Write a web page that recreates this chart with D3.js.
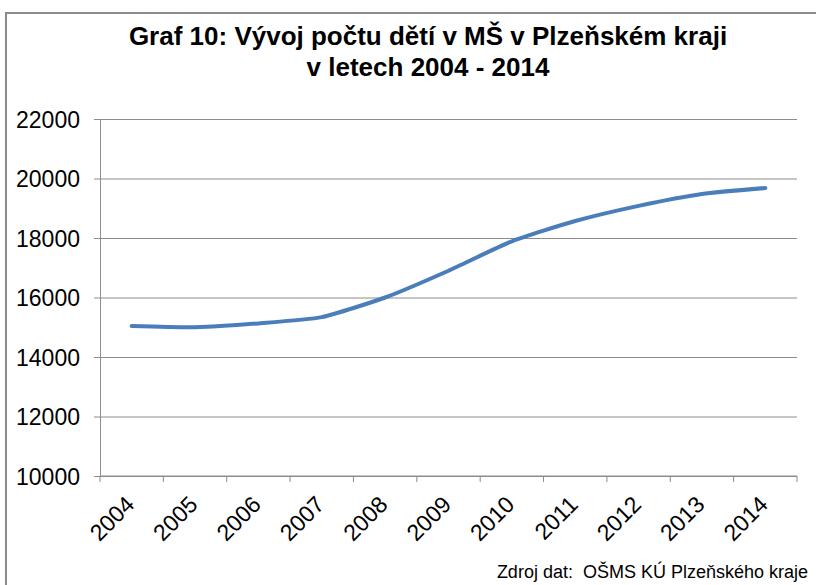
<!DOCTYPE html>
<html>
<head>
<meta charset="utf-8">
<script src="https://cdnjs.cloudflare.com/ajax/libs/d3/7.8.5/d3.min.js"></script>
<style>
  body { margin: 0; background: #fff; }
  svg { display: block; font-family: Arial, "Liberation Sans", sans-serif; }
</style>
</head>
<body>
<svg width="816" height="585"></svg>
<script>
var years = ["2004", "2005", "2006", "2007", "2008", "2009", "2010", "2011", "2012", "2013", "2014"];
var children = [15040, 15000, 15130, 15340, 16000, 16900, 17890, 18570, 19080, 19480, 19680];
var yTicks = [10000, 12000, 14000, 16000, 18000, 20000, 22000];
var titleLines = ["Graf 10: Vývoj počtu dětí v MŠ v Plzeňském kraji", "v letech 2004 - 2014"];
var source = "Zdroj dat:  OŠMS KÚ Plzeňského kraje";

var svg = d3.select("svg"),
    margin = {top: 119, right: 19, bottom: 109, left: 100},
    width = +svg.attr("width") - margin.left - margin.right,
    height = +svg.attr("height") - margin.top - margin.bottom;

// outer frame
svg.append("rect")
    .attr("x", 6)
    .attr("y", 13)
    .attr("width", 830)
    .attr("height", 600)
    .attr("fill", "#fff")
    .attr("stroke", "#8c8c8c")
    .attr("stroke-width", 2);

var x = d3.scaleBand().domain(years).range([0, width]),
    y = d3.scaleLinear().domain([10000, 22000]).range([height, 0]);

var g = svg.append("g")
    .attr("transform", "translate(" + margin.left + "," + margin.top + ")");

// grid
g.append("g")
    .attr("class", "grid")
    .call(d3.axisLeft(y).tickValues(yTicks).tickSize(-width).tickFormat(""))
    .call(function(s) {
        s.select(".domain").remove();
        s.selectAll("line").attr("stroke", "#8c8c8c").attr("stroke-width", 1);
    });

// y axis
g.append("g")
    .attr("class", "axis axis--y")
    .call(d3.axisLeft(y).tickValues(yTicks).tickSize(6).tickPadding(14).tickFormat(d3.format("d")))
    .call(function(s) {
        s.select(".domain").attr("stroke", "#8c8c8c");
        s.selectAll("line").attr("stroke", "#8c8c8c");
        s.selectAll("text")
            .attr("fill", "#000")
            .style("font-size", "23px")
            .attr("dy", "0.36em");
    });

// x axis with ticks between categories
var xAxis = g.append("g")
    .attr("class", "axis axis--x")
    .attr("transform", "translate(0," + height + ")");

xAxis.append("line")
    .attr("x1", 0).attr("x2", width)
    .attr("stroke", "#8c8c8c");

xAxis.selectAll(".tick-mark")
    .data(years.concat(["end"]))
    .enter().append("line")
    .attr("class", "tick-mark")
    .attr("x1", function(d, i) { return i < years.length ? x(d) : width; })
    .attr("x2", function(d, i) { return i < years.length ? x(d) : width; })
    .attr("y1", 0).attr("y2", 6)
    .attr("stroke", "#8c8c8c");

xAxis.selectAll(".lbl")
    .data(years)
    .enter().append("text")
    .attr("class", "lbl")
    .attr("text-anchor", "end")
    .attr("transform", function(d) {
        return "translate(" + (x(d) + x.bandwidth() / 2 + 4) + ",30) rotate(-45)";
    })
    .style("font-size", "23px")
    .attr("fill", "#000")
    .text(function(d) { return d; });

// line
var line = d3.line()
    .x(function(d, i) { return x(years[i]) + x.bandwidth() / 2; })
    .y(function(d) { return y(d); })
    .curve(d3.curveCardinal.tension(0.45));

g.append("path")
    .datum(children)
    .attr("fill", "none")
    .attr("stroke", "#4a7ebb")
    .attr("stroke-width", 4)
    .attr("stroke-linecap", "round")
    .attr("stroke-linejoin", "round")
    .attr("d", line);

// title
svg.append("text")
    .attr("x", 428)
    .attr("y", 45)
    .attr("text-anchor", "middle")
    .style("font-size", "26px")
    .style("font-weight", "bold")
    .selectAll("tspan")
    .data(titleLines)
    .enter().append("tspan")
    .attr("x", 428)
    .attr("dy", function(d, i) { return i ? 31 : 0; })
    .text(function(d) { return d; });

// source
svg.append("text")
    .attr("x", 808)
    .attr("y", 578)
    .attr("text-anchor", "end")
    .style("font-size", "18px")
    .style("white-space", "pre")
    .attr("xml:space", "preserve")
    .text(source);
</script>
</body>
</html>
